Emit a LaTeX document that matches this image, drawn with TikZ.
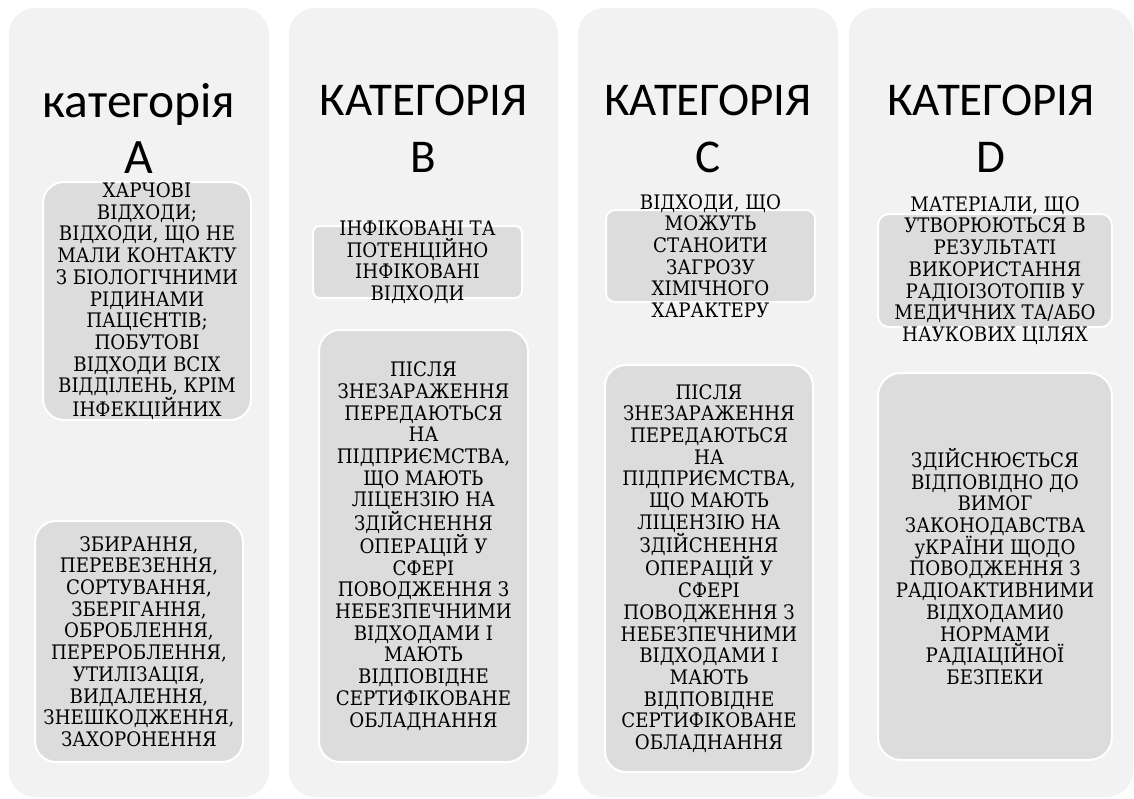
\documentclass[tikz,border=0pt]{standalone}
\usepackage{fontspec}
\newfontfamily\bodyfont[FakeStretch=0.91]{DejaVu Serif}
\newfontfamily\hdrfont{Carlito}
\definecolor{colfill}{RGB}{242,242,242}
\definecolor{boxfill}{RGB}{220,220,220}
\begin{document}
\begin{tikzpicture}[
    x=1pt, y=-1pt,
    column/.style={rectangle, fill=colfill, rounded corners=26pt, inner sep=0pt},
    header/.style={font=\hdrfont\fontsize{47}{57}\selectfont, align=center, inner sep=0pt},
    wbox/.style={rectangle, fill=boxfill, draw=white, line width=2pt, inner sep=0pt},
    wtext/.style={font=\bodyfont\fontsize{20}{21.7}\selectfont, align=center, inner sep=0pt}
]
    \useasboundingbox (0,0) rectangle (1134,798);

    % Column backgrounds
    \node[column, minimum width=260pt, minimum height=789pt] (colA) at (139,402.5) {};
    \node[column, minimum width=269pt, minimum height=789pt] (colB) at (423.5,402.5) {};
    \node[column, minimum width=260pt, minimum height=789pt] (colC) at (708,402.5) {};
    \node[column, minimum width=284pt, minimum height=789pt] (colD) at (991,402.5) {};

    % Headers
    \node[header, font=\hdrfont\fontsize{49.5}{56}\selectfont] (hdrA) at (139,128) {категорія\\А};
    \node[header] (hdrB) at (423.5,129) {КАТЕГОРІЯ\\В};
    \node[header] (hdrC) at (708,129) {КАТЕГОРІЯ\\С};
    \node[header] (hdrD) at (991,129) {КАТЕГОРІЯ\\D};

    % Category A
    \node[wbox, rounded corners=21pt, minimum width=208pt, minimum height=238pt] (boxA1) at (147,301) {};
    \node[wtext] (txtA1) at (boxA1.center) {ХАРЧОВІ\\ВІДХОДИ;\\ВІДХОДИ, ЩО НЕ\\МАЛИ КОНТАКТУ\\З БІОЛОГІЧНИМИ\\РІДИНАМИ\\ПАЦІЄНТІВ;\\ПОБУТОВІ\\ВІДХОДИ ВСІХ\\ВІДДІЛЕНЬ, КРІМ\\ІНФЕКЦІЙНИХ};
    \node[wbox, rounded corners=21pt, minimum width=208pt, minimum height=241pt] (boxA2) at (139,641.5) {};
    \node[wtext] (txtA2) at (boxA2.center) {ЗБИРАННЯ,\\ПЕРЕВЕЗЕННЯ,\\СОРТУВАННЯ,\\ЗБЕРІГАННЯ,\\ОБРОБЛЕННЯ,\\ПЕРЕРОБЛЕННЯ,\\УТИЛІЗАЦІЯ,\\ВИДАЛЕННЯ,\\ЗНЕШКОДЖЕННЯ,\\ЗАХОРОНЕННЯ};

    % Category B
    \node[wbox, rounded corners=7pt, minimum width=209pt, minimum height=72pt] (boxB1) at (417.5,262) {};
    \node[wtext] (txtB1) at (boxB1.center) {ІНФІКОВАНІ ТА\\ПОТЕНЦІЙНО\\ІНФІКОВАНІ\\ВІДХОДИ};
    \node[wbox, rounded corners=21pt, minimum width=209pt, minimum height=432pt] (boxB2) at (423.5,546) {};
    \node[wtext] (txtB2) at (boxB2.center) {ПІСЛЯ\\ЗНЕЗАРАЖЕННЯ\\ПЕРЕДАЮТЬСЯ\\НА\\ПІДПРИЄМСТВА,\\ЩО МАЮТЬ\\ЛІЦЕНЗІЮ НА\\ЗДІЙСНЕННЯ\\ОПЕРАЦІЙ У\\СФЕРІ\\ПОВОДЖЕННЯ З\\НЕБЕЗПЕЧНИМИ\\ВІДХОДАМИ І\\МАЮТЬ\\ВІДПОВІДНЕ\\СЕРТИФІКОВАНЕ\\ОБЛАДНАННЯ};

    % Category C
    \node[wbox, rounded corners=9pt, minimum width=209pt, minimum height=92pt] (boxC1) at (710.5,256) {};
    \node[wtext] (txtC1) at (boxC1.center) {ВІДХОДИ, ЩО\\МОЖУТЬ\\СТАНОИТИ\\ЗАГРОЗУ\\ХІМІЧНОГО\\ХАРАКТЕРУ};
    \node[wbox, rounded corners=21pt, minimum width=208pt, minimum height=407pt] (boxC2) at (709,568.5) {};
    \node[wtext] (txtC2) at (boxC2.center) {ПІСЛЯ\\ЗНЕЗАРАЖЕННЯ\\ПЕРЕДАЮТЬСЯ\\НА\\ПІДПРИЄМСТВА,\\ЩО МАЮТЬ\\ЛІЦЕНЗІЮ НА\\ЗДІЙСНЕННЯ\\ОПЕРАЦІЙ У\\СФЕРІ\\ПОВОДЖЕННЯ З\\НЕБЕЗПЕЧНИМИ\\ВІДХОДАМИ І\\МАЮТЬ\\ВІДПОВІДНЕ\\СЕРТИФІКОВАНЕ\\ОБЛАДНАННЯ};

    % Category D
    \node[wbox, rounded corners=11pt, minimum width=234pt, minimum height=113pt] (boxD1) at (995,270.5) {};
    \node[wtext] (txtD1) at (boxD1.center) {МАТЕРІАЛИ, ЩО\\УТВОРЮЮТЬСЯ В\\РЕЗУЛЬТАТІ\\ВИКОРИСТАННЯ\\РАДІОІЗОТОПІВ У\\МЕДИЧНИХ ТА/АБО\\НАУКОВИХ ЦІЛЯХ};
    \node[wbox, rounded corners=23pt, minimum width=234pt, minimum height=387pt] (boxD2) at (995,566.5) {};
    \node[wtext] (txtD2) at (boxD2.center) {ЗДІЙСНЮЄТЬСЯ\\ВІДПОВІДНО ДО\\ВИМОГ\\ЗАКОНОДАВСТВА\\уКРАЇНИ ЩОДО\\ПОВОДЖЕННЯ З\\РАДІОАКТИВНИМИ\\ВІДХОДАМИ0\\НОРМАМИ\\РАДІАЦІЙНОЇ\\БЕЗПЕКИ};
\end{tikzpicture}
\end{document}
